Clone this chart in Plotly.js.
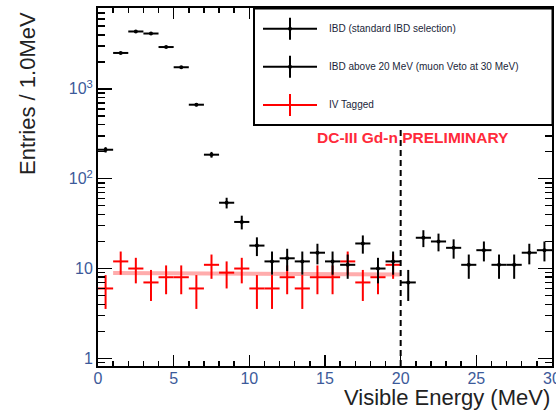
<!DOCTYPE html>
<html>
<head>
<meta charset="utf-8">
<script src="https://cdn.plot.ly/plotly-3.0.1.min.js"></script>
<style>
  html, body { margin: 0; padding: 0; background: #fff; }
  #chart { width: 556px; height: 410px; }
</style>
</head>
<body>
<div id="chart"></div>
<script>
// Visible-energy spectrum, 1 MeV bins (bin centres in MeV)
const ibdEnergy = [0.5, 1.5, 2.5, 3.5, 4.5, 5.5, 6.5, 7.5, 8.5, 9.5,
                   10.5, 11.5, 12.5, 13.5, 14.5, 15.5, 16.5, 17.5, 18.5, 19.5];
const ibdCounts = [210, 2510, 4350, 4130, 2920, 1740, 666, 185, 54, 33,
                   18, 12, 13, 12, 15, 12, 11, 19, 10, 12];

const highEnergy = [20.5, 21.5, 22.5, 23.5, 24.5, 25.5, 26.5, 27.5, 28.5, 29.5];
const highCounts = [7, 22, 20, 17, 11, 16, 11, 11, 15, 16];

const ivEnergy = [0.5, 1.5, 2.5, 3.5, 4.5, 5.5, 6.5, 7.5, 8.5, 9.5,
                  10.5, 11.5, 12.5, 13.5, 14.5, 15.5, 16.5, 17.5, 18.5, 19.5];
const ivCounts = [6, 12, 10, 7, 8, 8, 6, 11, 9, 10,
                  6, 6, 8, 6, 8, 8, 12, 7, 8, 11];

// Flat fit to the IV-tagged sample
const fitEnergy = [1, 20];
const fitLevel = [8.9, 8.6];

const legendLabels = ['IBD (standard IBD selection)',
                      'IBD above 20 MeV (muon Veto at 30 MeV)',
                      'IV Tagged'];

const yTickVals = [1, 10, 100, 1000];
const yTickText = ['1', '10', '10<sup>2</sup>', '10<sup>3</sup>'];

const xTitle = 'Visible Energy (MeV)';
const yTitle = 'Entries / 1.0MeV';
const stamp = 'DC-III Gd-n PRELIMINARY';

const FONT = 'Liberation Sans, Arial, Helvetica, sans-serif';
const BIN_HALF = 0.5;

// Poisson errors on counts
const sqrtErr = v => v.map(n => Math.sqrt(n));

function histTrace(x, y, color, markerSize) {
  return {
    type: 'scatter', mode: 'markers', x: x, y: y,
    marker: { color: color, size: markerSize, symbol: 'circle' },
    error_x: { type: 'constant', value: BIN_HALF, width: 0, thickness: 2, color: color },
    error_y: { type: 'data', array: sqrtErr(y), width: 0, thickness: 2, color: color },
    showlegend: false, hoverinfo: 'x+y'
  };
}

const traces = [
  {
    type: 'scatter', mode: 'lines', x: fitEnergy, y: fitLevel,
    line: { color: 'rgba(255,90,90,0.5)', width: 4 },
    showlegend: false, hoverinfo: 'skip'
  },
  histTrace(ivEnergy, ivCounts, '#ff0000', 2),
  histTrace(ibdEnergy, ibdCounts, '#000000', 4),
  histTrace(highEnergy, highCounts, '#000000', 4)
];

// plot-area geometry in pixels, used to place the hand-drawn legend and titles
const M = { l: 98, r: 4, t: 8, b: 44 };
const W = 556 - M.l - M.r, H = 410 - M.t - M.b;
const px = x => (x - M.l) / W;
const py = y => (410 - M.b - y) / H;

// minor ticks on the log axis: 2..9 of every decade
const yMinor = [];
for (let d = 0.1; d <= 1000; d *= 10) {
  for (let k = 2; k <= 9; k++) yMinor.push(Math.round(k * d * 100) / 100);
}

const shapes = [
  { type: 'line', xref: 'x', yref: 'paper', x0: 20, x1: 20, y0: 0, y1: 1,
    line: { color: '#000', width: 2, dash: '6px,4px' }, layer: 'above' },
  { type: 'rect', xref: 'paper', yref: 'paper',
    x0: px(254), x1: px(552.5), y0: py(125), y1: py(8.5),
    line: { color: '#000', width: 2 }, fillcolor: '#fff', layer: 'above' }
];
const annotations = [];
const legendRows = [
  { y: 28.7, color: '#000', dot: true },
  { y: 66.7, color: '#000', dot: true },
  { y: 105, color: '#ff0000', dot: false }
];
legendRows.forEach((row, i) => {
  shapes.push({ type: 'line', xref: 'paper', yref: 'paper',
    x0: px(263), x1: px(317), y0: py(row.y), y1: py(row.y),
    line: { color: row.color, width: 2 }, layer: 'above' });
  shapes.push({ type: 'line', xref: 'paper', yref: 'paper',
    x0: px(290), x1: px(290), y0: py(row.y + 11), y1: py(row.y - 11),
    line: { color: row.color, width: 2 }, layer: 'above' });
  if (row.dot) {
    shapes.push({ type: 'circle', xref: 'paper', yref: 'paper',
      x0: px(288), x1: px(292), y0: py(row.y + 2), y1: py(row.y - 2),
      line: { color: row.color, width: 0 }, fillcolor: row.color, layer: 'above' });
  }
  annotations.push({ xref: 'paper', yref: 'paper', x: px(327), y: py(row.y),
    xanchor: 'left', yanchor: 'middle', showarrow: false, text: legendLabels[i],
    font: { family: FONT, size: 10, color: '#1a1f3a' } });
});

annotations.push({ xref: 'paper', yref: 'paper', x: px(413), y: py(137),
  xanchor: 'center', yanchor: 'middle', showarrow: false, text: stamp,
  font: { family: FONT, size: 15.5, color: '#ff2a3a', weight: 'bold' } });

// axis titles, ROOT style: x title flush right, y title flush top
annotations.push({ xref: 'paper', yref: 'paper', x: px(552), y: py(397),
  xanchor: 'right', yanchor: 'middle', showarrow: false, text: xTitle,
  font: { family: FONT, size: 22, color: '#222' } });
annotations.push({ xref: 'paper', yref: 'paper', x: px(27), y: py(94),
  xanchor: 'center', yanchor: 'middle', showarrow: false, text: yTitle, textangle: -90,
  font: { family: FONT, size: 22, color: '#222' } });

const layout = {
  width: 556, height: 410,
  margin: M,
  paper_bgcolor: '#fff', plot_bgcolor: '#fff',
  font: { family: FONT, color: '#222' },
  showlegend: false,
  xaxis: {
    range: [0, 30], showgrid: false, zeroline: false,
    showline: true, linecolor: '#000', linewidth: 2, mirror: 'ticks',
    ticks: 'inside', ticklen: 11, tickwidth: 1.5, tickcolor: '#000',
    dtick: 5, tick0: 0, ticklabeloverflow: 'allow', ticklabelstandoff: -3,
    minor: { ticks: 'inside', ticklen: 5, tickwidth: 1.5, tickcolor: '#000', dtick: 1, showgrid: false },
    tickfont: { family: FONT, size: 16, color: '#3c5a9a' }
  },
  yaxis: {
    type: 'log', range: [-0.085, 3.9], showgrid: false, zeroline: false,
    showline: true, linecolor: '#000', linewidth: 2, mirror: 'ticks',
    ticks: 'inside', ticklen: 14, tickwidth: 1.5, tickcolor: '#000',
    tickmode: 'array', tickvals: yTickVals, ticktext: yTickText,
    minor: { ticks: 'inside', ticklen: 7, tickwidth: 1.5, tickcolor: '#000',
             tickmode: 'array', tickvals: yMinor, showgrid: false },
    tickfont: { family: FONT, size: 16, color: '#3c5a9a' }
  },
  shapes: shapes,
  annotations: annotations
};

Plotly.newPlot('chart', traces, layout, { staticPlot: true, displayModeBar: false });
</script>
</body>
</html>
